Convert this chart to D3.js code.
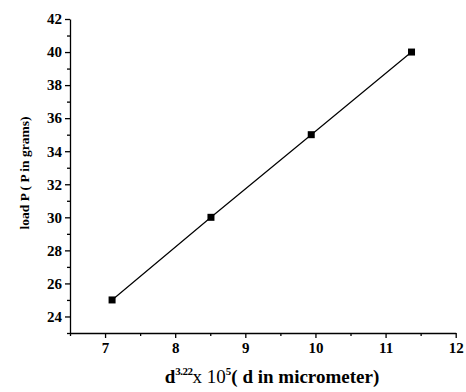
<html>
<head>
    <style>
        body {
            margin: 0;
            background-color: white;
        }
    </style>
    <script src="https://cdn.jsdelivr.net/npm/d3@7"></script>
</head>
<body>
    <svg id="Chart"></svg>
    <script>
    // values
    let xValues = [7.1, 8.51, 9.94, 11.37]
    let loadValues = [25, 30, 35, 40]
    let xTicks = [7, 8, 9, 10, 11, 12]
    let yTicks = [24, 26, 28, 30, 32, 34, 36, 38, 40, 42]
    let xMinorTicks = [6.5, 7.5, 8.5, 9.5, 10.5, 11.5]
    let yMinorTicks = [23, 25, 27, 29, 31, 33, 35, 37, 39, 41]

    let serif = "Liberation Serif, DejaVu Serif, serif"

    function getConfig() {
        let width = 466
        let height = 392
        let margin = { top: 19, bottom: 59, left: 70, right: 10 }
        let bodyHeight = height - margin.top - margin.bottom
        let bodyWidth = width - margin.left - margin.right
        let container = d3.select('#Chart')
            .attr("width", width)
            .attr("height", height)
        return { width, height, margin, bodyHeight, bodyWidth, container }
    }

    function getScales(config) {
        let xScale = d3.scaleLinear()
            .domain([6.5, 12])
            .range([0, 385.7])
        let yScale = d3.scaleLinear()
            .domain([23, 42])
            .range([config.bodyHeight, 0])
        return { xScale, yScale }
    }

    function drawAxes(scales, config) {
        let { xScale, yScale } = scales
        let { container, margin, bodyHeight } = config

        // minor ticks first, without labels
        let xMinor = container.append("g")
            .attr("transform", `translate(${margin.left},${margin.top + bodyHeight})`)
            .call(d3.axisBottom(xScale).tickValues(xMinorTicks).tickSize(3).tickFormat(""))
        xMinor.select(".domain").remove()

        let yMinor = container.append("g")
            .attr("transform", `translate(${margin.left},${margin.top})`)
            .call(d3.axisLeft(yScale).tickValues(yMinorTicks).tickSize(3).tickFormat(""))
        yMinor.select(".domain").remove()

        let axisX = container.append("g")
            .attr("transform", `translate(${margin.left},${margin.top + bodyHeight})`)
            .call(d3.axisBottom(xScale).tickValues(xTicks).tickFormat(d3.format("d"))
                .tickSize(5).tickSizeOuter(0).tickPadding(4))

        let axisY = container.append("g")
            .attr("transform", `translate(${margin.left},${margin.top})`)
            .call(d3.axisLeft(yScale).tickValues(yTicks).tickFormat(d3.format("d"))
                .tickSize(5).tickSizeOuter(0).tickPadding(3))

        container.selectAll("g").attr("font-family", serif)
        container.selectAll(".tick text")
            .attr("fill", "black")
            .attr("font-family", serif)
            .attr("font-weight", "bold")
            .attr("font-size", 15)

        container.selectAll(".domain, .tick line").attr("stroke", "black").attr("stroke-width", 1.3)

        // axis titles
        let xTitle = container.append("text")
            .attr("x", 272)
            .attr("y", 383)
            .attr("text-anchor", "middle")
            .attr("font-family", serif)
            .attr("font-weight", "bold")
            .attr("font-size", 19)
        xTitle.append("tspan").text("d")
        xTitle.append("tspan").text("3.22").attr("dy", -8).attr("font-size", 11).attr("letter-spacing", -0.5)
        xTitle.append("tspan").text("x 10").attr("dy", 8).attr("font-weight", "normal")
        xTitle.append("tspan").text("5").attr("dy", -8).attr("font-size", 11)
        xTitle.append("tspan").text("( d in micrometer)").attr("dy", 8)

        container.append("text")
            .attr("transform", `translate(29,173) rotate(-90)`)
            .attr("text-anchor", "middle")
            .attr("font-family", serif)
            .attr("font-weight", "bold")
            .attr("font-size", 13.5)
            .text("load P ( P in grams)")
    }

    function drawData(scales, config) {
        let { xScale, yScale } = scales
        let { container, margin } = config
        let points = xValues.map((x, i) => ({ x: x, y: loadValues[i] }))
        let body = container.append("g")
            .attr("transform", `translate(${margin.left},${margin.top})`)

        let line = d3.line()
            .x(d => xScale(d.x))
            .y(d => yScale(d.y))
        body.append("path")
            .datum(points)
            .attr("d", line)
            .attr("fill", "none")
            .attr("stroke", "black")
            .attr("stroke-width", 1.2)

        body.selectAll(".pt").data(points)
            .enter().append("rect")
            .attr("class", "pt")
            .attr("x", d => xScale(d.x) - 3.5)
            .attr("y", d => yScale(d.y) - 3.5)
            .attr("width", 7)
            .attr("height", 7)
            .attr("fill", "black")
    }

    let config = getConfig()
    let scales = getScales(config)
    drawAxes(scales, config)
    drawData(scales, config)
    </script>
</body>
</html>
